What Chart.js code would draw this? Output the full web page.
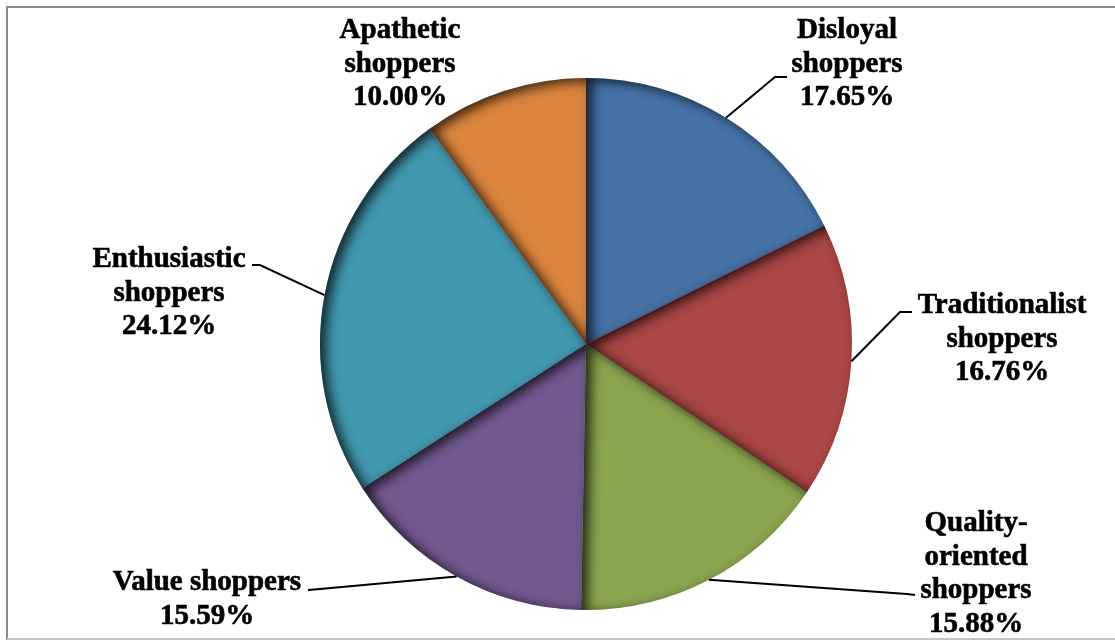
<!DOCTYPE html>
<html>
<head>
<meta charset="utf-8">
<script src="https://cdn.jsdelivr.net/npm/chart.js@4"></script>
<style>
  body { margin: 0; background: #fff; }
  canvas { display: block; }
</style>
</head>
<body>
<canvas id="shoppersPie" width="1115" height="644"></canvas>
<script>
// shopper segments, clockwise from 12 o'clock
var segments = ['Disloyal shoppers', 'Traditionalist shoppers', 'Quality-oriented shoppers',
                'Value shoppers', 'Enthusiastic shoppers', 'Apathetic shoppers'];
var shares = [17.65, 16.76, 15.88, 15.59, 24.12, 10.00];
// how each label wraps
var labelLines = [
  ['Disloyal', 'shoppers'],
  ['Traditionalist', 'shoppers'],
  ['Quality-', 'oriented', 'shoppers'],
  ['Value shoppers'],
  ['Enthusiastic', 'shoppers'],
  ['Apathetic', 'shoppers']
];

var colors = ['#4572a7', '#aa4643', '#89a54e', '#71588f', '#4198af', '#db843d'];

// where each label sits (center x, first baseline) and the bends of its leader line
var labelPos = [
  { x: 847, y: 38, bends: [[775, 77], [787, 77]] },
  { x: 1002, y: 313, bends: [[900, 312], [912, 312]] },
  { x: 976, y: 531, bends: [[907, 594], [915, 595]] },
  { x: 207, y: 590, bends: [[320, 589], [308, 590]] },
  { x: 169, y: 267, bends: [[260, 265], [252, 265]] },
  { x: 400, y: 38, bends: null }
];
var LINE_H = 33.5;

// frame around the picture
var frame = {
  id: 'frame',
  beforeDraw: function(chart) {
    var ctx = chart.ctx;
    ctx.save();
    ctx.fillStyle = '#fff';
    ctx.fillRect(0, 0, chart.width, chart.height);
    ctx.strokeStyle = '#8a8a8a';
    ctx.lineWidth = 2;
    ctx.beginPath();
    ctx.moveTo(7, 640);
    ctx.lineTo(7, 7);
    ctx.lineTo(1115, 7);
    ctx.stroke();
    ctx.strokeStyle = '#c4c4c4';
    ctx.beginPath();
    ctx.moveTo(7, 639);
    ctx.lineTo(1115, 639);
    ctx.stroke();
    ctx.restore();
  }
};

function slicePath(ctx, p, dx) {
  ctx.moveTo(p.x + dx, p.y);
  ctx.arc(p.x + dx, p.y, p.outerRadius, p.startAngle, p.endAngle);
  ctx.closePath();
}

// soft inner shadow along the upper-left edges of every slice;
// the casting shape is drawn far off to the left so only its shadow lands here
var FAR = 10000;
var innerShadow = {
  id: 'innerShadow',
  afterDatasetsDraw: function(chart) {
    var ctx = chart.ctx;
    chart.getDatasetMeta(0).data.forEach(function(arc) {
      var p = arc.getProps(['x', 'y', 'startAngle', 'endAngle', 'outerRadius'], true);
      ctx.save();
      ctx.beginPath();
      slicePath(ctx, p, 0);
      ctx.clip();
      ctx.beginPath();
      ctx.rect(-3000 - FAR, -3000, 7000, 7000);
      slicePath(ctx, p, -FAR);
      ctx.shadowColor = 'rgba(0,0,0,0.75)';
      ctx.shadowBlur = 12;
      ctx.shadowOffsetX = FAR + 6;
      ctx.shadowOffsetY = 3;
      ctx.fillStyle = '#000';
      ctx.fill('evenodd');
      ctx.restore();
    });
  }
};

// category name + percentage, with leader lines
var sliceLabels = {
  id: 'sliceLabels',
  afterDraw: function(chart) {
    var ctx = chart.ctx;
    ctx.save();
    chart.getDatasetMeta(0).data.forEach(function(arc, i) {
      var p = arc.getProps(['x', 'y', 'startAngle', 'endAngle', 'outerRadius'], true);
      var pos = labelPos[i];
      if (pos.bends) {
        var mid = (p.startAngle + p.endAngle) / 2;
        ctx.strokeStyle = '#000';
        ctx.lineWidth = 2;
        ctx.beginPath();
        ctx.moveTo(p.x + p.outerRadius * Math.cos(mid), p.y + p.outerRadius * Math.sin(mid));
        pos.bends.forEach(function(b) { ctx.lineTo(b[0], b[1]); });
        ctx.stroke();
      }
      var lines = labelLines[i].concat([shares[i].toFixed(2) + '%']);
      ctx.fillStyle = '#000';
      ctx.strokeStyle = '#000';
      ctx.lineWidth = 0.6;
      ctx.font = 'bold 29px "Liberation Serif", "Times New Roman", serif';
      ctx.textAlign = 'center';
      ctx.textBaseline = 'alphabetic';
      lines.forEach(function(t, k) {
        ctx.fillText(t, pos.x, pos.y + k * LINE_H);
        ctx.strokeText(t, pos.x, pos.y + k * LINE_H);
      });
    });
    ctx.restore();
  }
};

new Chart(document.getElementById('shoppersPie'), {
  type: 'pie',
  data: {
    labels: segments,
    datasets: [{
      data: shares,
      backgroundColor: colors,
      borderWidth: 0
    }]
  },
  plugins: [frame, innerShadow, sliceLabels],
  options: {
    responsive: false,
    animation: false,
    layout: {
      padding: { top: 78, bottom: 34, left: 320, right: 263 }
    },
    plugins: {
      legend: { display: false },
      tooltip: { enabled: false }
    }
  }
});
</script>
</body>
</html>
